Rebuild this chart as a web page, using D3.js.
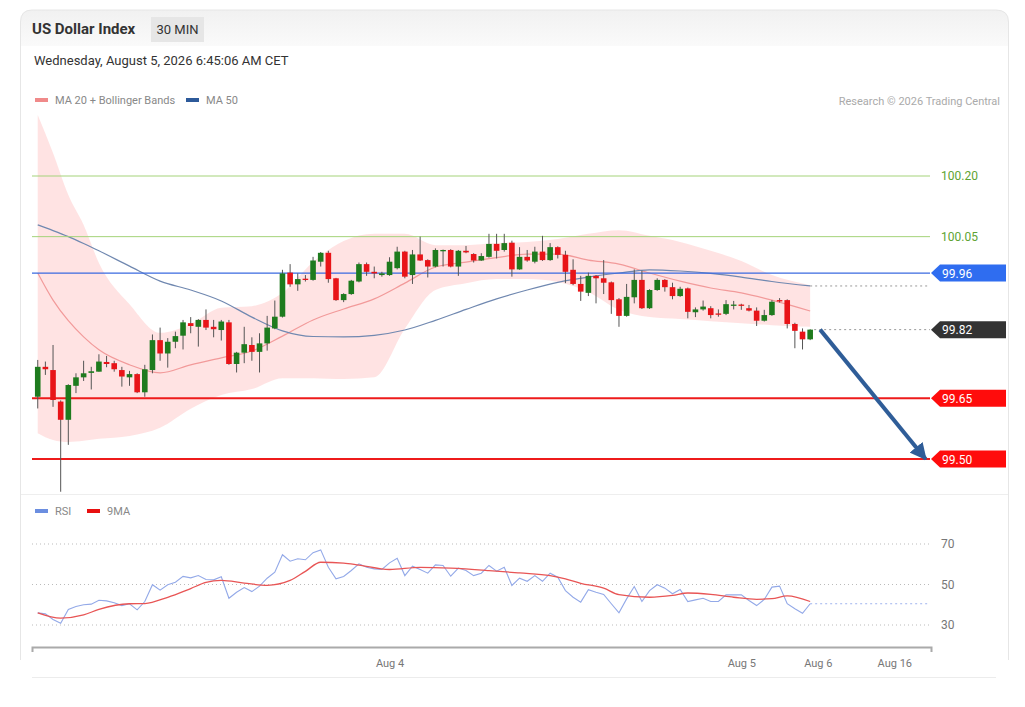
<!DOCTYPE html>
<html>
<head>
<meta charset="utf-8">
<script src="https://cdn.jsdelivr.net/npm/d3@7"></script>
<style>
  body { margin: 0; background: #fff; }
  text { font-family: Roboto, "Liberation Sans", sans-serif; }
</style>
</head>
<body>
<svg id="chart" width="1025" height="707"></svg>
<script>
// 30 min candles, one entry per bar
var opens = [99.654,99.728,99.720,99.642,99.597,99.681,99.702,99.713,99.716,99.740,
  99.737,99.720,99.702,99.710,99.665,99.720,99.794,99.761,99.790,99.805,
  99.836,99.827,99.844,99.827,99.819,99.838,99.735,99.763,99.782,99.765,
  99.786,99.823,99.852,99.961,99.932,99.946,99.943,99.988,100.010,99.947,
  99.893,99.908,99.939,99.982,99.963,99.955,99.955,99.972,100.013,99.955,
  100.006,99.992,99.976,100.015,100.017,99.976,100.015,100.007,99.991,100.000,
  100.032,100.017,100.035,99.969,100.000,99.988,100.013,99.992,100.024,100.005,
  99.968,99.933,99.911,99.953,99.947,99.937,99.895,99.854,99.900,99.943,
  99.873,99.918,99.943,99.925,99.903,99.922,99.863,99.870,99.873,99.860,
  99.859,99.879,99.882,99.873,99.867,99.842,99.856,99.893,99.893,99.834,
  99.815,99.796];
var closes = [99.728,99.722,99.646,99.597,99.683,99.702,99.712,99.717,99.741,99.735,
  99.722,99.704,99.710,99.665,99.722,99.794,99.761,99.790,99.804,99.838,
  99.829,99.844,99.825,99.821,99.840,99.735,99.763,99.784,99.765,99.786,
  99.825,99.852,99.959,99.932,99.945,99.943,99.991,100.010,99.945,99.893,
  99.908,99.941,99.982,99.963,99.959,99.959,99.988,100.013,99.951,100.006,
  99.991,99.976,100.017,100.017,99.976,100.015,100.011,99.991,100.002,100.032,
  100.015,100.034,99.969,100.000,99.991,100.013,99.992,100.024,100.005,99.963,
  99.933,99.914,99.953,99.947,99.936,99.893,99.854,99.901,99.943,99.873,
  99.918,99.943,99.925,99.903,99.921,99.864,99.870,99.877,99.856,99.857,
  99.883,99.882,99.879,99.867,99.842,99.856,99.889,99.890,99.834,99.817,
  99.796,99.820];
var highs = [99.745,99.741,99.782,99.645,99.685,99.712,99.743,99.728,99.759,99.755,
  99.743,99.728,99.718,99.712,99.733,99.808,99.825,99.799,99.815,99.844,
  99.851,99.846,99.870,99.844,99.844,99.844,99.765,99.827,99.801,99.811,
  99.854,99.892,99.968,99.982,99.959,99.955,100.000,100.012,100.015,99.948,
  99.910,99.943,99.986,99.986,99.976,99.963,99.999,100.025,100.015,100.017,
  100.050,99.994,100.021,100.018,100.019,100.017,100.027,100.009,100.009,100.057,
  100.057,100.057,100.040,100.024,100.017,100.025,100.052,100.034,100.026,100.015,
  99.994,99.953,99.961,99.955,99.992,99.939,99.898,99.933,99.969,99.966,
  99.920,99.947,99.945,99.936,99.926,99.924,99.875,99.892,99.878,99.870,
  99.893,99.891,99.884,99.881,99.875,99.869,99.893,99.898,99.895,99.837,
  99.823,99.821];
var lows = [99.625,99.708,99.629,99.419,99.535,99.663,99.693,99.672,99.716,99.727,
  99.716,99.679,99.681,99.663,99.654,99.712,99.743,99.726,99.774,99.771,
  99.811,99.778,99.819,99.801,99.793,99.733,99.714,99.737,99.743,99.714,
  99.768,99.821,99.850,99.926,99.916,99.939,99.941,99.976,99.936,99.891,
  99.888,99.906,99.937,99.953,99.947,99.951,99.953,99.969,99.947,99.933,
  99.990,99.949,99.974,99.976,99.974,99.953,100.009,99.986,99.990,99.998,
  99.996,100.013,99.951,99.968,99.988,99.984,99.990,99.990,99.996,99.935,
  99.930,99.891,99.903,99.885,99.908,99.859,99.827,99.852,99.885,99.871,
  99.871,99.916,99.914,99.895,99.901,99.848,99.851,99.867,99.848,99.852,
  99.856,99.870,99.869,99.865,99.829,99.840,99.854,99.887,99.823,99.774,
  99.771,99.794];

// moving averages and Bollinger bands, read at these bar indices
var bandIdx = [0,2,4,6,8,12,16,20,24,28,32,36,40,44,48,52,56,60,64,68,72,76,80,84,88,92,96,101];
var ma20 = [99.960,99.893,99.842,99.802,99.770,99.733,99.713,99.733,99.750,99.767,99.804,99.844,99.871,99.896,
  99.935,99.975,99.987,99.998,100.007,100.007,99.992,99.982,99.960,99.940,99.923,99.911,99.893,99.866];
var bandUpper = [100.351,100.257,100.153,100.079,99.985,99.883,99.812,99.834,99.874,99.878,99.911,99.987,100.039,100.057,
  100.057,100.029,100.029,100.034,100.037,100.044,100.057,100.066,100.052,100.037,100.015,99.990,99.955,99.930];
var bandLower = [99.564,99.547,99.542,99.545,99.550,99.557,99.577,99.624,99.658,99.673,99.700,99.700,99.698,99.702,
  99.822,99.918,99.935,99.945,99.945,99.938,99.913,99.869,99.851,99.846,99.841,99.836,99.831,99.827];
var ma50 = [100.079,100.065,100.050,100.033,100.015,99.977,99.940,99.918,99.891,99.851,99.817,99.803,99.802,99.806,
  99.819,99.843,99.870,99.896,99.918,99.937,99.950,99.960,99.968,99.965,99.959,99.950,99.939,99.928];

// levels
var greenLevels = [100.20, 100.05];
var blueLevel = 99.96;
var lastPrice = 99.82;
var redLevels = [99.65, 99.50];
var forecastFrom = [102.3, 99.82];
var forecastTo = [116.1, 99.50];

// RSI panel
var rsi = [36.0,35.5,32.7,30.9,37.7,39.1,40.0,40.3,42.2,41.9,
  41.0,39.6,40.5,37.5,41.6,49.9,47.2,49.9,51.1,54.0,
  53.3,54.4,52.5,52.3,53.8,43.2,46.2,48.5,46.5,49.2,
  53.1,56.1,64.7,61.5,62.7,62.2,65.7,67.1,58.5,52.8,
  54.0,56.9,60.2,58.5,57.7,57.4,60.7,63.0,54.4,59.0,
  57.4,55.6,59.7,59.4,54.1,58.1,56.9,54.4,55.6,59.4,
  56.6,58.5,49.5,53.1,51.6,54.4,51.6,55.6,53.6,47.0,
  43.7,41.3,47.4,46.2,45.1,40.5,36.0,42.9,49.0,41.6,
  47.0,49.9,48.2,45.4,47.5,41.6,42.4,43.2,41.6,41.6,
  44.9,44.9,44.9,42.1,39.6,42.6,48.7,49.2,40.5,38.0,
  35.8,40.5];
var rsiMaIdx = [0,3,6,8,12,14,17,20,22,24,27,30,33,35,37,40,42,46,50,54,59,63,67,69,71,74,76,80,83,85,88,91,94,96,98,101];
var rsiMa = [36.0,33.4,35.0,37.7,40.5,40.6,43.7,48.0,51.0,52.0,50.7,49.6,52.0,56.5,61.0,60.6,59.6,57.4,58.5,58.1,
  56.9,55.7,54.4,52.8,50.6,48.2,45.0,43.7,44.6,45.8,45.1,43.7,42.7,43.0,44.4,41.6];
var rsiTicks = [30, 50, 70];

var dateIdx = [46, 92, 102, 112];
var dateLabels = ["Aug 4", "Aug 5", "Aug 6", "Aug 16"];

var svg = d3.select("#chart");

var x = d3.scaleLinear().domain([-0.75, 116.8]).range([32, 931]);
var y = d3.scaleLinear().domain([99.50, 100.20]).range([459, 176]);
var yr = d3.scaleLinear().domain([30, 70]).range([625, 544]);

// card
var defs = svg.append("defs");
var grad = defs.append("linearGradient").attr("id", "hdr").attr("x1", 0).attr("y1", 0).attr("x2", 0).attr("y2", 1);
grad.append("stop").attr("offset", "0%").attr("stop-color", "#f1f1f1");
grad.append("stop").attr("offset", "100%").attr("stop-color", "#fafafa");

svg.append("path")
  .attr("d", "M20.5,46 V22 Q20.5,10 32,10 H996 Q1008.5,10 1008.5,22 V46 Z")
  .attr("fill", "url(#hdr)");
svg.append("path")
  .attr("d", "M20.5,660 V22 Q20.5,10 32,10 H996 Q1008.5,10 1008.5,22 V660")
  .attr("fill", "none").attr("stroke", "#e6e6e6");
svg.append("line").attr("x1", 32).attr("x2", 996).attr("y1", 677.5).attr("y2", 677.5).attr("stroke", "#ececec");
svg.append("line").attr("x1", 21).attr("x2", 1008).attr("y1", 494.5).attr("y2", 494.5).attr("stroke", "#eeeeee");

// header
svg.append("text").attr("x", 32).attr("y", 34).style("font-size", "15px").style("font-weight", "bold")
  .attr("fill", "#333").text("US Dollar Index");
svg.append("rect").attr("x", 151).attr("y", 17).attr("width", 53).attr("height", 25).attr("fill", "#e6e6e6");
svg.append("text").attr("x", 177.5).attr("y", 34).attr("text-anchor", "middle").style("font-size", "13px")
  .attr("fill", "#333").text("30 MIN");
svg.append("text").attr("x", 34).attr("y", 65).style("font-size", "13px").attr("fill", "#333")
  .text("Wednesday, August 5, 2026 6:45:06 AM CET");

// legends
function legendItem(lx, ly, color, label) {
  svg.append("rect").attr("x", lx).attr("y", ly - 6).attr("width", 13).attr("height", 4).attr("fill", color);
  svg.append("text").attr("x", lx + 20).attr("y", ly).style("font-size", "11px").attr("fill", "#888").text(label);
}
legendItem(35, 104, "#f08a8a", "MA 20 + Bollinger Bands");
legendItem(186, 104, "#2d5a9a", "MA 50");
legendItem(35, 515, "#6b8ee0", "RSI");
legendItem(87, 515, "#e81010", "9MA");
svg.append("text").attr("x", 1000).attr("y", 105).attr("text-anchor", "end").style("font-size", "11px")
  .attr("fill", "#aaa").text("Research \u00a9 2026 Trading Central");

// bands and averages
var bandData = bandIdx.map(function (d, i) {
  return { i: d, up: bandUpper[i], lo: bandLower[i], m20: ma20[i], m50: ma50[i] };
});
svg.append("path").datum(bandData)
  .attr("d", d3.area().curve(d3.curveMonotoneX)
    .x(function (d) { return x(d.i); })
    .y0(function (d) { return y(d.lo); })
    .y1(function (d) { return y(d.up); }))
  .attr("fill", "#ff9a9a").attr("fill-opacity", 0.28);
svg.append("path").datum(bandData)
  .attr("d", d3.line().curve(d3.curveMonotoneX).x(function (d) { return x(d.i); }).y(function (d) { return y(d.m20); }))
  .attr("fill", "none").attr("stroke", "#f29a9a").attr("stroke-width", 1.2);
svg.append("path").datum(bandData)
  .attr("d", d3.line().curve(d3.curveMonotoneX).x(function (d) { return x(d.i); }).y(function (d) { return y(d.m50); }))
  .attr("fill", "none").attr("stroke", "#7088b0").attr("stroke-width", 1.2);

// level lines
var x0 = x.range()[0], x1 = 930;
greenLevels.forEach(function (v) {
  svg.append("line").attr("x1", x0).attr("x2", x1).attr("y1", y(v)).attr("y2", y(v))
    .attr("stroke", "#a5d37a").attr("stroke-width", 1);
  svg.append("text").attr("x", 941).attr("y", y(v) + 4).style("font-size", "12px").attr("fill", "#5ea332")
    .text(v.toFixed(2));
});
svg.append("line").attr("x1", x0).attr("x2", x1).attr("y1", y(blueLevel)).attr("y2", y(blueLevel))
  .attr("stroke", "#3a6ae0").attr("stroke-width", 1.3);
redLevels.forEach(function (v) {
  svg.append("line").attr("x1", x0).attr("x2", x1).attr("y1", y(v)).attr("y2", y(v))
    .attr("stroke", "#ee1b1b").attr("stroke-width", 2);
});
svg.append("line").attr("x1", x(101)).attr("x2", x1).attr("y1", y(ma50[ma50.length - 1])).attr("y2", y(ma50[ma50.length - 1]))
  .attr("stroke", "#999").attr("stroke-dasharray", "2,3");
svg.append("line").attr("x1", x(101) + 4).attr("x2", x1).attr("y1", y(lastPrice)).attr("y2", y(lastPrice))
  .attr("stroke", "#999").attr("stroke-dasharray", "2,3");

// candles
var candles = opens.map(function (o, i) {
  return { i: i, o: o, h: highs[i], l: lows[i], c: closes[i] };
});
var cg = svg.append("g");
cg.selectAll("line").data(candles).enter().append("line")
  .attr("x1", function (d) { return x(d.i); }).attr("x2", function (d) { return x(d.i); })
  .attr("y1", function (d) { return y(d.h); }).attr("y2", function (d) { return y(d.l); })
  .attr("stroke", "#555").attr("stroke-width", 1);
cg.selectAll("rect").data(candles).enter().append("rect")
  .attr("x", function (d) { return x(d.i) - 2.8; }).attr("width", 5.6)
  .attr("y", function (d) { return y(Math.max(d.o, d.c)); })
  .attr("height", function (d) { return Math.max(1.3, Math.abs(y(d.o) - y(d.c))); })
  .attr("fill", function (d) { return d.c >= d.o ? "#1e7b1e" : "#e81418"; });

// price tags
function tag(v, color) {
  var ty = y(v);
  svg.append("path")
    .attr("d", "M931," + ty + " L940," + (ty - 8.5) + " H1006 V" + (ty + 8.5) + " H940 Z")
    .attr("fill", color);
  svg.append("text").attr("x", 942).attr("y", ty + 4.5).style("font-size", "12px").attr("fill", "#fff")
    .text(v.toFixed(2));
}
tag(blueLevel, "#2f6df0");
tag(lastPrice, "#333333");
redLevels.forEach(function (v) { tag(v, "#ff0c0c"); });

// forecast arrow
defs.append("marker").attr("id", "ah").attr("viewBox", "0 0 10 10").attr("refX", 9).attr("refY", 5)
  .attr("markerWidth", 4.2).attr("markerHeight", 4.2).attr("orient", "auto")
  .append("path").attr("d", "M0,0 L10,5 L0,10 Z").attr("fill", "#2f5d98");
svg.append("line")
  .attr("x1", x(forecastFrom[0])).attr("y1", y(forecastFrom[1]))
  .attr("x2", x(forecastTo[0])).attr("y2", y(forecastTo[1]))
  .attr("stroke", "#2f5d98").attr("stroke-width", 4).attr("marker-end", "url(#ah)");

// RSI panel
rsiTicks.forEach(function (v) {
  svg.append("line").attr("x1", x0).attr("x2", x1).attr("y1", yr(v)).attr("y2", yr(v))
    .attr("stroke", "#bbb").attr("stroke-dasharray", "1,3");
});
var yAxis = svg.append("g").attr("transform", "translate(930,0)")
  .call(d3.axisRight(yr).tickValues(rsiTicks).tickSize(0).tickPadding(11));
yAxis.select(".domain").remove();
yAxis.selectAll("text").style("font-size", "12px").attr("fill", "#777").style("font-family", "Roboto, sans-serif");

svg.append("line").attr("x1", x(101)).attr("x2", x1).attr("y1", yr(rsi[rsi.length - 1])).attr("y2", yr(rsi[rsi.length - 1]))
  .attr("stroke", "#9fb3ee").attr("stroke-dasharray", "2,3");
svg.append("path").datum(rsi)
  .attr("d", d3.line().x(function (d, i) { return x(i); }).y(function (d) { return yr(d); }))
  .attr("fill", "none").attr("stroke", "#93a9e8").attr("stroke-width", 1.1);
svg.append("path").datum(rsiMaIdx.map(function (d, i) { return [d, rsiMa[i]]; }))
  .attr("d", d3.line().curve(d3.curveMonotoneX).x(function (d) { return x(d[0]); }).y(function (d) { return yr(d[1]); }))
  .attr("fill", "none").attr("stroke", "#e85555").attr("stroke-width", 1.3);

// time axis
var xAxis = svg.append("g").attr("transform", "translate(0,647)")
  .call(d3.axisBottom(x).tickValues(dateIdx)
    .tickFormat(function (d, i) { return dateLabels[i]; })
    .tickSizeInner(0).tickSizeOuter(5).tickPadding(12));
xAxis.select(".domain").attr("stroke", "#aaa").attr("stroke-width", 2);
xAxis.selectAll("text").style("font-size", "11px").attr("fill", "#777").style("font-family", "Roboto, sans-serif");
</script>
</body>
</html>
